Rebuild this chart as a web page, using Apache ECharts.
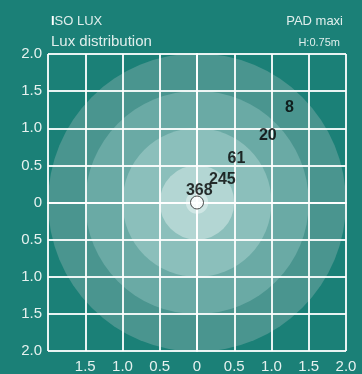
<!DOCTYPE html>
<html>
<head>
<meta charset="utf-8">
<script src="https://cdn.jsdelivr.net/npm/echarts@6/dist/echarts.min.js"></script>
<style>
  html, body { margin: 0; padding: 0; background: #1b8077; }
  #chart { width: 362px; height: 374px; }
</style>
</head>
<body>
<div id="chart"></div>
<script>
// lux rings (radius in m) and their fill colours, outer first
const ringRadii = [2.0, 1.5, 1.0, 0.5, 0.15]
const ringColors = ['#4a958f', '#6aaaa5', '#8bbfbb', '#b3d6d3', '#cfe6e4']

// lux values and where their labels sit
const luxValues = [368, 245, 61, 20, 8]
const luxX = [0.03, 0.34, 0.53, 0.95, 1.24]
const luxY = [0.16, 0.31, 0.59, 0.9, 1.28]

const axisMin = -2
const axisMax = 2
const tickStep = 0.5

const chart = echarts.init(document.getElementById('chart'))

// 坐标轴标签取绝对值
const fmt = (v) => {
  const a = Math.abs(v)
  return a === 0 ? '0' : a.toFixed(1)
}

const font = 'Liberation Sans, Arial, sans-serif'

const axisCommon = {
  type: 'value',
  min: axisMin,
  max: axisMax,
  interval: tickStep,
  z: 5,
  axisLine: { show: true, lineStyle: { color: '#ffffff', width: 2 } },
  axisTick: { show: false },
  splitLine: { show: true, lineStyle: { color: '#ffffff', width: 2, opacity: 0.9 } },
  axisLabel: {
    color: '#e6f1ef',
    fontSize: 15,
    fontFamily: font,
    formatter: fmt
  }
}

const option = {
  backgroundColor: '#1b8077',
  animation: false,
  title: [
    {
      text: '{b|I}SO LUX',
      left: 46,
      top: 10,
      textStyle: {
        color: '#e0eeec',
        fontSize: 13,
        fontWeight: 'normal',
        fontFamily: font,
        rich: { b: { color: '#ffffff', fontSize: 13, fontWeight: 'bold', fontFamily: font } }
      }
    },
    {
      text: 'Lux distribution',
      left: 46,
      top: 29,
      textStyle: { color: '#e0eeec', fontSize: 15, fontWeight: 'normal', fontFamily: font }
    },
    {
      text: 'PAD maxi',
      right: 14,
      top: 10,
      textStyle: { color: '#e0eeec', fontSize: 13, fontWeight: 'normal', fontFamily: font }
    },
    {
      text: 'H:0.75m',
      right: 17,
      top: 32,
      textStyle: { color: '#e0eeec', fontSize: 11, fontWeight: 'normal', fontFamily: font }
    }
  ],
  grid: { left: 48, right: 16, top: 54, bottom: 22, containLabel: false },
  xAxis: merge({}, axisCommon, { axisLabel: { showMinLabel: false, margin: 8 } }),
  yAxis: merge({}, axisCommon, { axisLabel: { margin: 6 } }),
  series: [
    {
      type: 'custom',
      z: 1,
      clip: true,
      data: ringRadii.map((r, i) => [0, 0, r, i]),
      renderItem: (params, api) => {
        const c = api.coord([api.value(0), api.value(1)])
        const rad = api.size([api.value(2), 0])[0]
        return {
          type: 'circle',
          shape: { cx: c[0], cy: c[1], r: rad },
          style: { fill: ringColors[api.value(3)] }
        }
      }
    },
    {
      type: 'scatter',
      z: 10,
      symbolSize: 0,
      data: luxValues.map((v, i) => [luxX[i], luxY[i], v]),
      label: {
        show: true,
        position: 'inside',
        formatter: (p) => String(p.value[2]),
        color: '#000000',
        fontSize: 16,
        fontWeight: 'bold',
        fontFamily: font
      }
    },
    {
      type: 'scatter',
      z: 11,
      symbol: 'circle',
      symbolSize: 13,
      itemStyle: { color: '#ffffff', borderColor: '#222222', borderWidth: 1 },
      data: [[0, 0]]
    }
  ]
}

function merge(target, ...sources) {
  sources.forEach((src) => {
    Object.keys(src).forEach((k) => {
      const v = src[k]
      if (v && typeof v === 'object' && !Array.isArray(v) && typeof v !== 'function') {
        target[k] = merge(target[k] && typeof target[k] === 'object' ? target[k] : {}, v)
      } else {
        target[k] = v
      }
    })
  })
  return target
}

chart.setOption(option)
</script>
</body>
</html>
